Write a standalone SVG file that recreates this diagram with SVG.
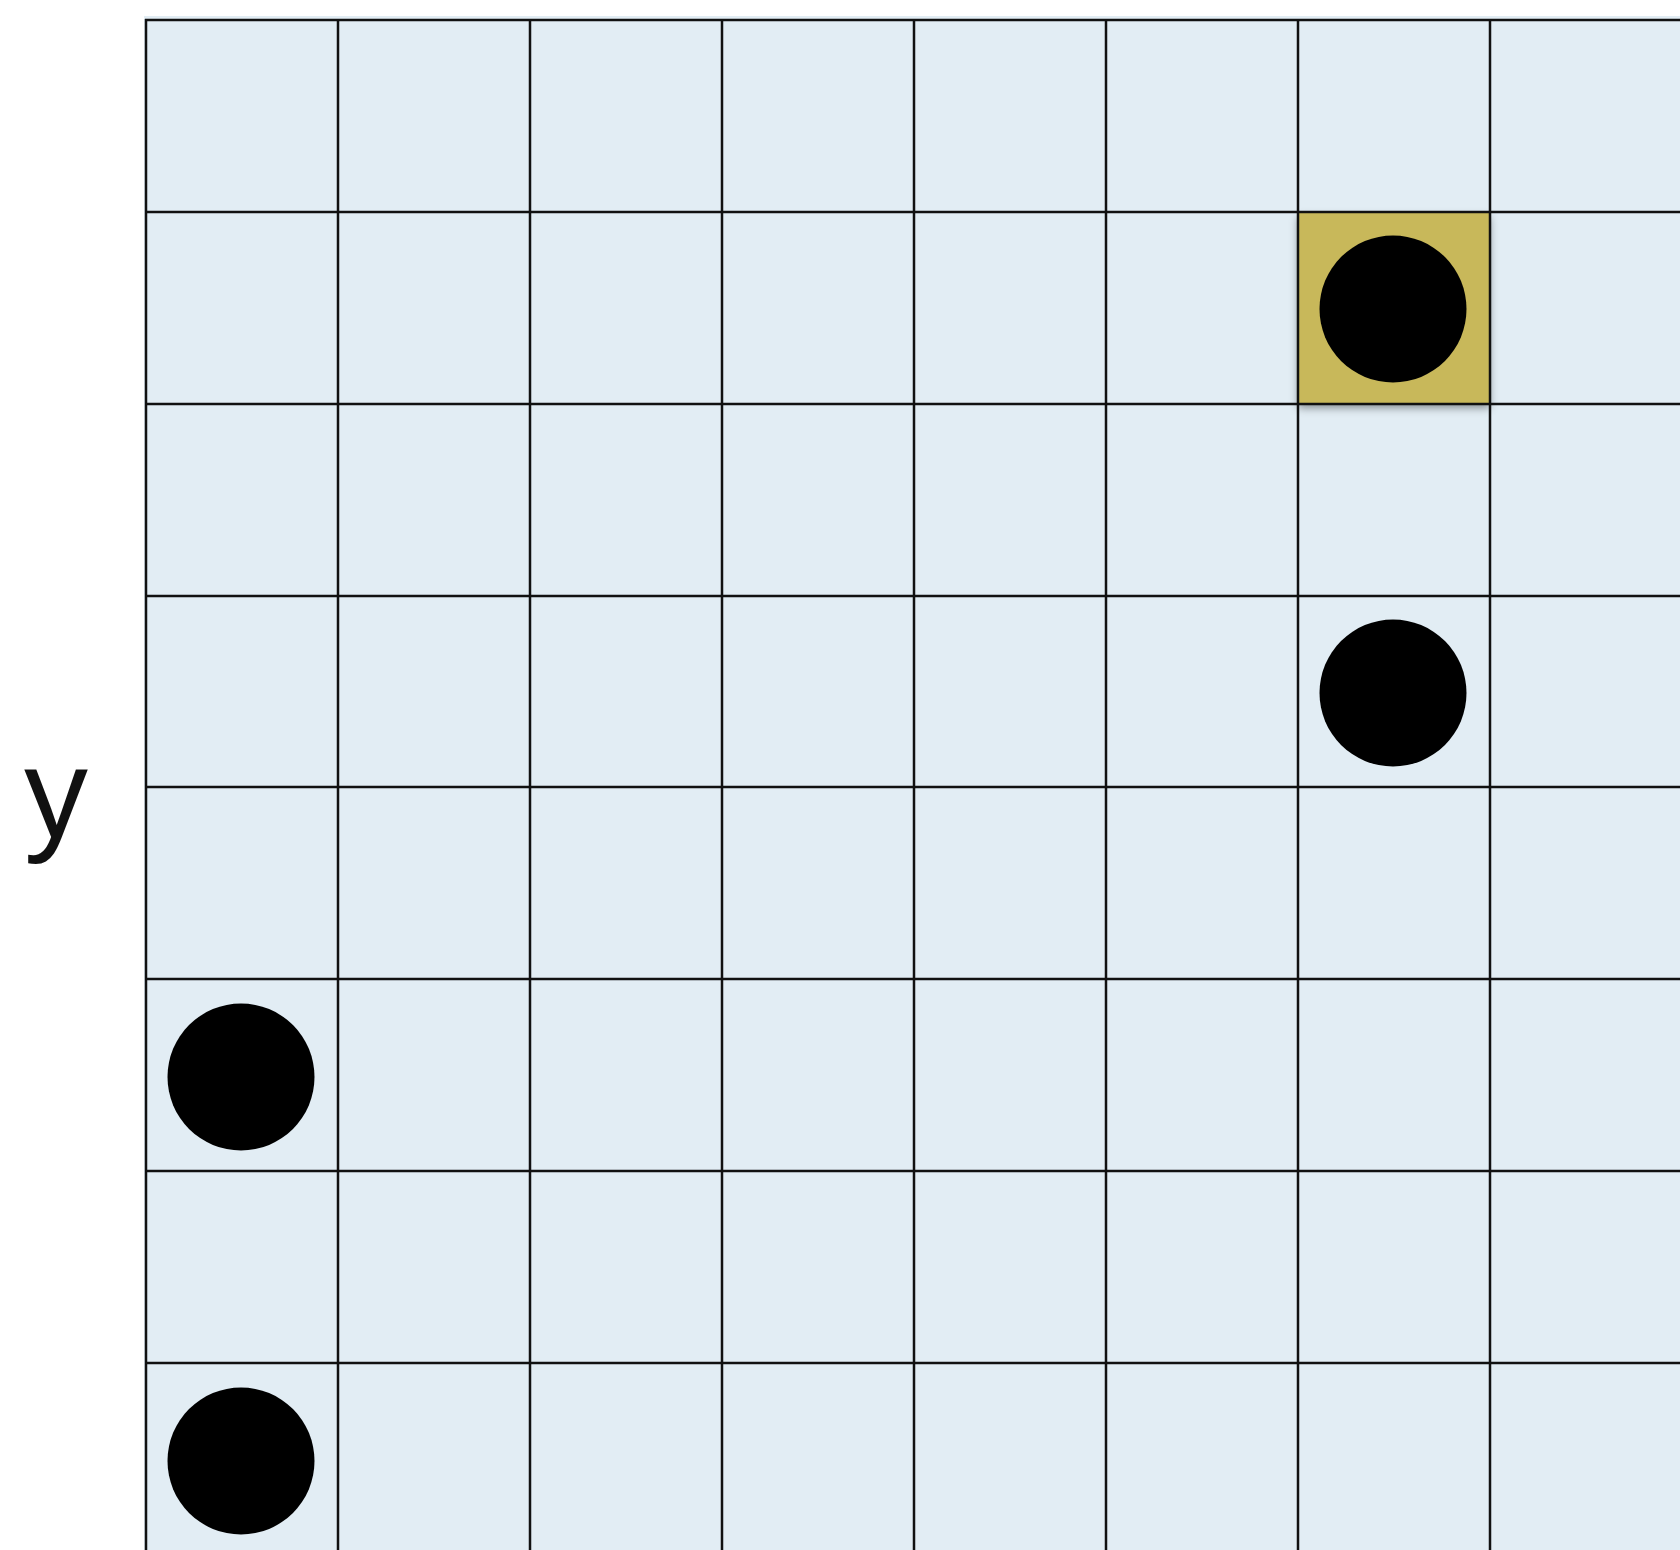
<svg xmlns="http://www.w3.org/2000/svg" width="1680" height="1550" viewBox="0 0 1680 1550">
<defs>
<style>
.grid line{stroke:#111;stroke-width:2.5}
.dot{fill:#000}
.lbl{font-family:"Liberation Sans",Arial,sans-serif;font-size:128px;fill:#111}
</style>
<filter id="sh" x="-20%" y="-20%" width="140%" height="140%">
<feDropShadow dx="0" dy="5" stdDeviation="4" flood-color="#000" flood-opacity="0.4"/>
</filter>
</defs>
<rect width="1680" height="1550" fill="#fff"/>
<rect x="144" y="16" width="1536" height="1534" fill="#e2edf4"/>
<g id="highlight">
<rect x="1298" y="212" width="192" height="191" fill="#c8b85a" filter="url(#sh)"/>
</g>
<g id="grid" class="grid">
<line x1="146" y1="19" x2="146" y2="1550"/>
<line x1="338" y1="19" x2="338" y2="1550"/>
<line x1="530" y1="19" x2="530" y2="1550"/>
<line x1="722" y1="19" x2="722" y2="1550"/>
<line x1="914" y1="19" x2="914" y2="1550"/>
<line x1="1106" y1="19" x2="1106" y2="1550"/>
<line x1="1298" y1="19" x2="1298" y2="1550"/>
<line x1="1490" y1="19" x2="1490" y2="1550"/>
<line x1="145" y1="20" x2="1680" y2="20"/>
<line x1="145" y1="212" x2="1680" y2="212"/>
<line x1="145" y1="404" x2="1680" y2="404"/>
<line x1="145" y1="596" x2="1680" y2="596"/>
<line x1="145" y1="787" x2="1680" y2="787"/>
<line x1="145" y1="979" x2="1680" y2="979"/>
<line x1="145" y1="1171" x2="1680" y2="1171"/>
<line x1="145" y1="1363" x2="1680" y2="1363"/>
</g>
<g id="dots">
<circle class="dot" cx="1393" cy="309" r="73.5"/>
<circle class="dot" cx="1393" cy="693" r="73.5"/>
<circle class="dot" cx="241" cy="1077" r="73.5"/>
<circle class="dot" cx="241" cy="1461" r="73.5"/>
</g>
<g id="label">
<text class="lbl" x="24" y="837">y</text>
</g>
</svg>
